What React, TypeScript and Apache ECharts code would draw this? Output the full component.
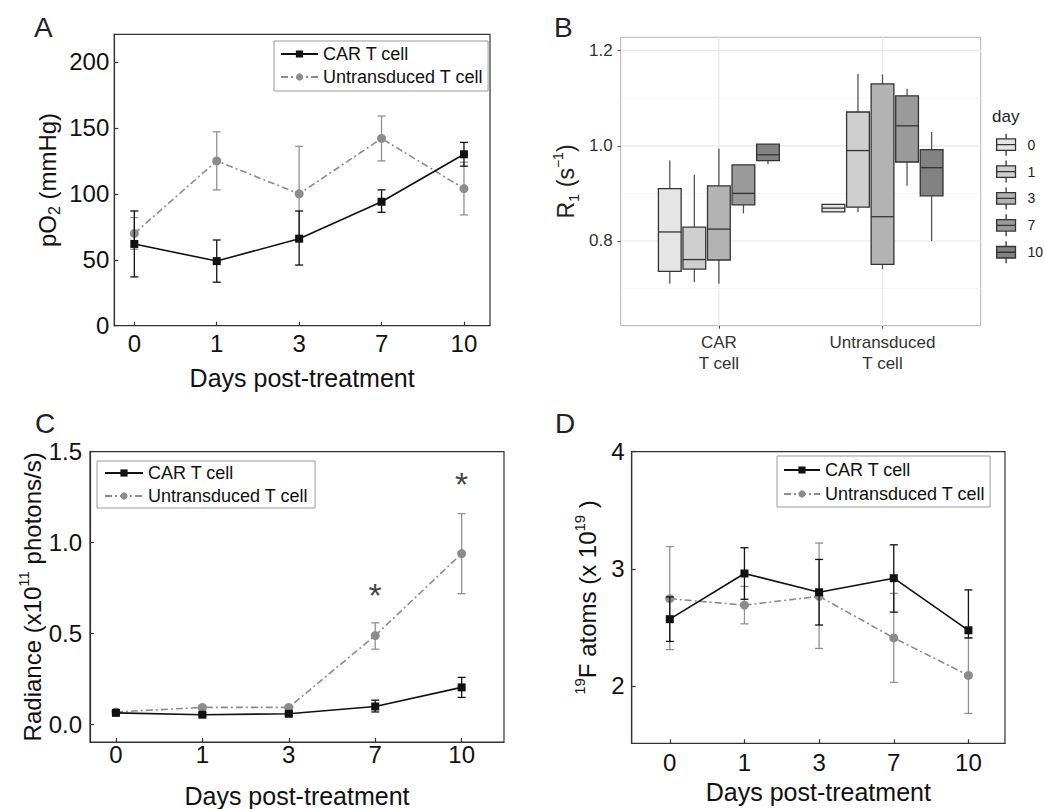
import React, { useEffect, useRef } from 'react';
import * as echarts from 'echarts';

// ---------- shared ----------
const dayLabels = ['0', '1', '3', '7', '10'];
const dayIndex = [0, 1, 2, 3, 4];
const seriesNames = ['CAR T cell', 'Untransduced T cell'];

// ---------- Panel A : pO2 ----------
const pO2Car = [62, 49, 66, 94, 130];
const pO2CarLow = [37, 33, 46, 86, 121];
const pO2CarHigh = [87, 65, 87, 103, 139];
const pO2Untr = [70, 125, 100, 142, 104];
const pO2UntrLow = [58, 103, 64, 125, 84];
const pO2UntrHigh = [82, 147, 136, 159, 124];
const pO2Ticks = [0, 50, 100, 150, 200];

// ---------- Panel C : radiance ----------
const radCar = [0.065, 0.055, 0.06, 0.1, 0.205];
const radCarLow = [0.055, 0.045, 0.05, 0.07, 0.15];
const radCarHigh = [0.075, 0.065, 0.07, 0.135, 0.26];
const radUntr = [0.07, 0.095, 0.095, 0.49, 0.94];
const radUntrLow = [0.06, 0.085, 0.085, 0.415, 0.72];
const radUntrHigh = [0.08, 0.105, 0.105, 0.56, 1.16];
const radTicks = [0, 0.5, 1.0, 1.5];
const starDayIdx = [3, 4];
const starValue = [0.71, 1.32];

// ---------- Panel D : 19F atoms ----------
const fCar = [2.57, 2.96, 2.8, 2.92, 2.475];
const fCarLow = [2.38, 2.74, 2.52, 2.63, 2.41];
const fCarHigh = [2.76, 3.18, 3.08, 3.205, 2.82];
const fUntr = [2.745, 2.69, 2.765, 2.41, 2.09];
const fUntrLow = [2.31, 2.53, 2.32, 2.03, 1.765];
const fUntrHigh = [3.19, 2.85, 3.22, 2.79, 2.41];
const fTicks = [2, 3, 4];

// ---------- Panel B : R1 boxplots ----------
const groupLabels = ['CAR\nT cell', 'Untransduced\nT cell'];
const boxDays = ['0', '1', '3', '7', '10'];
// [min, q1, median, q3, max] for [CAR, Untransduced]
const r1Day0 = [[0.71, 0.736, 0.819, 0.91, 0.969], [0.861, 0.861, 0.869, 0.877, 0.877]];
const r1Day1 = [[0.714, 0.741, 0.761, 0.829, 0.939], [0.861, 0.871, 0.99, 1.071, 1.151]];
const r1Day3 = [[0.71, 0.76, 0.825, 0.916, 0.994], [0.741, 0.751, 0.851, 1.13, 1.15]];
const r1Day7 = [[0.858, 0.876, 0.9, 0.96, 0.96], [0.916, 0.966, 1.042, 1.105, 1.12]];
const r1Day10 = [[0.9615, 0.969, 0.981, 1.0035, 1.0035], [0.8, 0.895, 0.954, 0.992, 1.029]];
const r1Ticks = [0.8, 1.0, 1.2];
const r1MinorGrid = [0.7, 0.9, 1.1];
const r1Groups = [0, 1];

// ---------- styles ----------
const FONT = "'Liberation Sans', Arial, Helvetica, sans-serif";
const AXIS = '#333';
const TXT = '#111';
const BLACK = '#111';
const GREY = '#8c8c8c';
const GREY_ERR = '#929292';
const boxFill = ['#e5e5e5', '#cfcfcf', '#b3b3b3', '#9a9a9a', '#828282'];
const boxOffsets = [-0.3, -0.15, 0, 0.15, 0.3];
const boxWidth = 0.139;
const boxIcon = 'path://M10,0V5M1,5H19V16H1ZM1,10.5H19M10,16V21';

function errSeries(gi: number, id: string, lo: number[], hi: number[], color: string, z: number) {
  return {
    type: 'custom',
    id,
    xAxisIndex: gi,
    yAxisIndex: gi,
    z,
    silent: true,
    data: dayIndex.map((x, i) => [x, lo[i], hi[i]]),
    renderItem: (params: any, api: any) => {
      const x = api.value(0);
      const p1 = api.coord([x, api.value(1)]);
      const p2 = api.coord([x, api.value(2)]);
      const cap = 4;
      const st = { stroke: color, lineWidth: 1.3 };
      return {
        type: 'group',
        children: [
          { type: 'line', shape: { x1: p1[0], y1: p1[1], x2: p2[0], y2: p2[1] }, style: st },
          { type: 'line', shape: { x1: p1[0] - cap, y1: p1[1], x2: p1[0] + cap, y2: p1[1] }, style: st },
          { type: 'line', shape: { x1: p2[0] - cap, y1: p2[1], x2: p2[0] + cap, y2: p2[1] }, style: st },
        ],
      };
    },
  };
}

function panelSeries(gi: number, car: number[], carLo: number[], carHi: number[], un: number[], unLo: number[], unHi: number[]) {
  return [
    errSeries(gi, 'errU' + gi, unLo, unHi, GREY_ERR, 2),
    {
      type: 'line',
      name: seriesNames[1],
      xAxisIndex: gi,
      yAxisIndex: gi,
      z: 3,
      data: dayIndex.map((x, i) => [x, un[i]]),
      symbol: 'circle',
      symbolSize: 9,
      itemStyle: { color: GREY },
      lineStyle: { color: GREY, width: 1.6, type: [7, 3, 2, 3] },
    },
    errSeries(gi, 'errC' + gi, carLo, carHi, BLACK, 4),
    {
      type: 'line',
      name: seriesNames[0],
      xAxisIndex: gi,
      yAxisIndex: gi,
      z: 5,
      data: dayIndex.map((x, i) => [x, car[i]]),
      symbol: 'rect',
      symbolSize: 8,
      itemStyle: { color: BLACK },
      lineStyle: { color: BLACK, width: 1.6 },
    },
  ];
}

function dayXAxis(gi: number, min: number, max: number, nameGap: number, labelMargin: number) {
  return {
    type: 'value',
    gridIndex: gi,
    min,
    max,
    name: 'Days post-treatment',
    nameLocation: 'middle',
    nameGap,
    nameTextStyle: { fontSize: 25, color: TXT, lineHeight: 25, fontFamily: FONT },
    axisLine: { show: true, onZero: false, lineStyle: { color: AXIS, width: 1.2 } },
    axisTick: { show: true, inside: true, length: 4, customValues: dayIndex, lineStyle: { color: AXIS, width: 1.2 } },
    axisLabel: {
      customValues: dayIndex,
      formatter: (v: number) => dayLabels[Math.round(v)],
      fontSize: 24,
      color: TXT,
      margin: labelMargin,
      fontFamily: FONT,
    },
    splitLine: { show: false },
  };
}

function valueYAxis(gi: number, min: number, max: number, ticks: number[], fmt: (v: number) => string, name: string, nameGap: number, rich: any, labelMargin: number) {
  return {
    type: 'value',
    gridIndex: gi,
    min,
    max,
    name,
    nameLocation: 'middle',
    nameGap,
    nameTextStyle: { rich, fontFamily: FONT },
    axisLine: { show: true, onZero: false, lineStyle: { color: AXIS, width: 1.2 } },
    axisTick: { show: true, inside: true, length: 4, customValues: ticks, lineStyle: { color: AXIS, width: 1.2 } },
    axisLabel: { customValues: ticks, formatter: fmt, fontSize: 24, color: TXT, margin: labelMargin, fontFamily: FONT },
    splitLine: { show: false },
  };
}

function lineLegend(left: number, top: number, padding: number[], itemWidth: number, itemGap: number) {
  return {
    orient: 'vertical',
    left,
    top,
    padding,
    itemWidth,
    itemHeight: 9,
    itemGap,
    data: seriesNames,
    borderColor: '#9a9a9a',
    borderWidth: 1,
    borderRadius: 0,
    selectedMode: false,
    textStyle: { fontSize: 18, color: TXT, lineHeight: 18, fontFamily: FONT },
  };
}

const r1ByDay = [r1Day0, r1Day1, r1Day3, r1Day7, r1Day10];

function boxSeries(k: number) {
  const rows = r1ByDay[k];
  return {
    type: 'custom',
    name: boxDays[k],
    xAxisIndex: 1,
    yAxisIndex: 1,
    z: 3,
    silent: true,
    itemStyle: { color: boxFill[k], borderColor: '#333', borderWidth: 1.2 },
    data: r1Groups.map((g, i) => [g, ...rows[i]]),
    renderItem: (params: any, api: any) => {
      const cx = api.coord([api.value(0) + boxOffsets[k], 1])[0];
      const yMin = api.coord([0, api.value(1)])[1];
      const yQ1 = api.coord([0, api.value(2)])[1];
      const yMed = api.coord([0, api.value(3)])[1];
      const yQ3 = api.coord([0, api.value(4)])[1];
      const yMax = api.coord([0, api.value(5)])[1];
      const hw = api.size([boxWidth, 0])[0] / 2;
      const wh = { stroke: '#555', lineWidth: 1.3 };
      const ol = { stroke: '#333', lineWidth: 1.3 };
      return {
        type: 'group',
        children: [
          { type: 'line', shape: { x1: cx, y1: yMax, x2: cx, y2: yQ3 }, style: wh },
          { type: 'line', shape: { x1: cx, y1: yQ1, x2: cx, y2: yMin }, style: wh },
          { type: 'rect', shape: { x: cx - hw, y: yQ3, width: hw * 2, height: yQ1 - yQ3 }, style: { fill: boxFill[k], ...ol } },
          { type: 'line', shape: { x1: cx - hw, y1: yMed, x2: cx + hw, y2: yMed }, style: ol },
        ],
      };
    },
  };
}

function hGridSeries(values: number[], color: string, width: number) {
  return {
    type: 'custom',
    xAxisIndex: 1,
    yAxisIndex: 1,
    z: 1,
    silent: true,
    data: values.map((v) => [0, v]),
    renderItem: (params: any, api: any) => {
      const cs = params.coordSys;
      const y = api.coord([0, api.value(1)])[1];
      return { type: 'line', shape: { x1: cs.x, y1: y, x2: cs.x + cs.width, y2: y }, style: { stroke: color, lineWidth: width } };
    },
  };
}

function vGridSeries(values: number[], color: string, width: number) {
  return {
    type: 'custom',
    xAxisIndex: 1,
    yAxisIndex: 1,
    z: 1,
    silent: true,
    data: values.map((v) => [v, 1]),
    renderItem: (params: any, api: any) => {
      const cs = params.coordSys;
      const x = api.coord([api.value(0), 1])[0];
      return { type: 'line', shape: { x1: x, y1: cs.y, x2: x, y2: cs.y + cs.height }, style: { stroke: color, lineWidth: width } };
    },
  };
}

const supRich = {
  m: { fontSize: 24, lineHeight: 28, verticalAlign: 'bottom', color: TXT, fontFamily: FONT },
  p: { fontSize: 15, lineHeight: 12, verticalAlign: 'top', color: TXT, fontFamily: FONT },
};

const option: any = {
  animation: false,
  backgroundColor: '#fff',
  textStyle: { fontFamily: FONT },
  grid: [
    { left: 114.3, top: 34.3, right: 554, bottom: 483.3, show: true, borderColor: AXIS, borderWidth: 1.2 },
    { left: 620.7, top: 37.3, right: 63.3, bottom: 483.3, show: true, borderColor: '#b3b3b3', borderWidth: 1, backgroundColor: '#fff' },
    { left: 90, top: 451.7, right: 540, bottom: 65.7, show: true, borderColor: AXIS, borderWidth: 1.2 },
    { left: 631.7, top: 451.7, right: 39, bottom: 65.7, show: true, borderColor: AXIS, borderWidth: 1.2 },
  ],
  xAxis: [
    dayXAxis(0, -0.243, 4.316, 40, 6),
    {
      type: 'value',
      gridIndex: 1,
      min: -0.6,
      max: 1.6,
      axisLine: { show: false, onZero: false },
      axisTick: { show: true, inside: false, length: 3, customValues: r1Groups, lineStyle: { color: '#444', width: 1 } },
      axisLabel: {
        customValues: r1Groups,
        formatter: (v: number) => groupLabels[Math.round(v)],
        fontSize: 17,
        lineHeight: 21,
        color: '#333',
        margin: 6,
        fontFamily: FONT,
      },
      splitLine: { show: false },
    },
    dayXAxis(2, -0.3, 4.49, 41, 0),
    dayXAxis(3, -0.51, 4.49, 36, 7),
  ],
  yAxis: [
    valueYAxis(0, 0, 221, pO2Ticks, (v) => String(v), '{m|pO}{s|2}{m| (mmHg)}', 52, {
      m: { fontSize: 24, lineHeight: 30, verticalAlign: 'middle', color: TXT, fontFamily: FONT },
      s: { fontSize: 16, lineHeight: 16, verticalAlign: 'bottom', color: TXT, fontFamily: FONT },
    }, 5),
    {
      type: 'value',
      gridIndex: 1,
      min: 0.622,
      max: 1.228,
      name: '{m|R}{b|1}{m| (s}{p|\u22121}{m|)}',
      nameLocation: 'middle',
      nameGap: 40,
      nameTextStyle: {
        rich: {
          m: { fontSize: 23, lineHeight: 30, verticalAlign: 'middle', color: '#222', fontFamily: FONT },
          b: { fontSize: 15, lineHeight: 14, verticalAlign: 'bottom', color: '#222', fontFamily: FONT },
          p: { fontSize: 14, lineHeight: 14, verticalAlign: 'top', color: '#222', fontFamily: FONT },
        },
      },
      axisLine: { show: false, onZero: false },
      axisTick: { show: true, inside: false, length: 3, customValues: r1Ticks, lineStyle: { color: '#444', width: 1 } },
      axisLabel: { customValues: r1Ticks, formatter: (v: number) => v.toFixed(1), fontSize: 17, color: '#333', margin: 8, fontFamily: FONT },
      splitLine: { show: false },
    },
    valueYAxis(2, -0.095, 1.5, radTicks, (v) => v.toFixed(1), '{m|Radiance (x10}{p|11}{m| photons/s)}', 46, supRich, 8),
    valueYAxis(3, 1.51, 4.0, fTicks, (v) => String(v), '{p|19}{m|F atoms (x 10}{p|19}{m| )}', 32, supRich, 7),
  ],
  legend: [
    lineLegend(274, 41, [4, 5, 5, 6], 37, 5),
    lineLegend(97, 461, [3, 7, 3, 7], 38, 5),
    lineLegend(777, 456, [5, 5, 4, 6], 36, 6),
    {
      orient: 'vertical',
      left: 996,
      top: 133,
      padding: 0,
      itemWidth: 19,
      itemHeight: 22,
      itemGap: 3.6,
      selectedMode: false,
      data: boxDays.map((d, i) => ({
        name: d,
        icon: boxIcon,
        itemStyle: { color: boxFill[i], borderColor: '#333', borderWidth: 1.3 },
      })),
      textStyle: { fontSize: 14, color: '#222', padding: [0, 0, 0, 7], fontFamily: FONT },
    },
  ],
  graphic: [
    { type: 'text', left: 34, top: 13, style: { text: 'A', fontSize: 28, fill: '#222', fontFamily: FONT } },
    { type: 'text', left: 554, top: 13, style: { text: 'B', fontSize: 28, fill: '#222', fontFamily: FONT } },
    { type: 'text', left: 35, top: 409, style: { text: 'C', fontSize: 28, fill: '#222', fontFamily: FONT } },
    { type: 'text', left: 555, top: 409, style: { text: 'D', fontSize: 28, fill: '#222', fontFamily: FONT } },
    { type: 'text', left: 992, top: 108, style: { text: 'day', fontSize: 17, fill: '#222', fontFamily: FONT } },
  ],
  series: [
    hGridSeries(r1MinorGrid, '#f3f3f3', 0.8),
    hGridSeries(r1Ticks, '#e8e8e8', 1.2),
    vGridSeries(r1Groups, '#e8e8e8', 1.2),
    ...r1ByDay.map((_, k) => boxSeries(k)),
    ...panelSeries(0, pO2Car, pO2CarLow, pO2CarHigh, pO2Untr, pO2UntrLow, pO2UntrHigh),
    ...panelSeries(2, radCar, radCarLow, radCarHigh, radUntr, radUntrLow, radUntrHigh),
    ...panelSeries(3, fCar, fCarLow, fCarHigh, fUntr, fUntrLow, fUntrHigh),
    {
      type: 'scatter',
      id: 'stars',
      xAxisIndex: 2,
      yAxisIndex: 2,
      z: 6,
      silent: true,
      symbolSize: 1,
      itemStyle: { color: 'rgba(0,0,0,0)' },
      data: starDayIdx.map((d, i) => [d, starValue[i]]),
      label: { show: true, position: 'inside', formatter: '*', fontSize: 34, color: TXT, fontFamily: FONT },
    },
  ],
};

export default function App() {
  const ref = useRef<HTMLDivElement>(null);
  useEffect(() => {
    const chart = echarts.init(ref.current as HTMLDivElement, null, { renderer: 'svg' });
    chart.setOption(option);
    return () => chart.dispose();
  }, []);
  return (
    <div
      ref={ref}
      style={{ position: 'absolute', left: 0, top: 0, width: 1044, height: 809, background: '#fff' }}
    />
  );
}
